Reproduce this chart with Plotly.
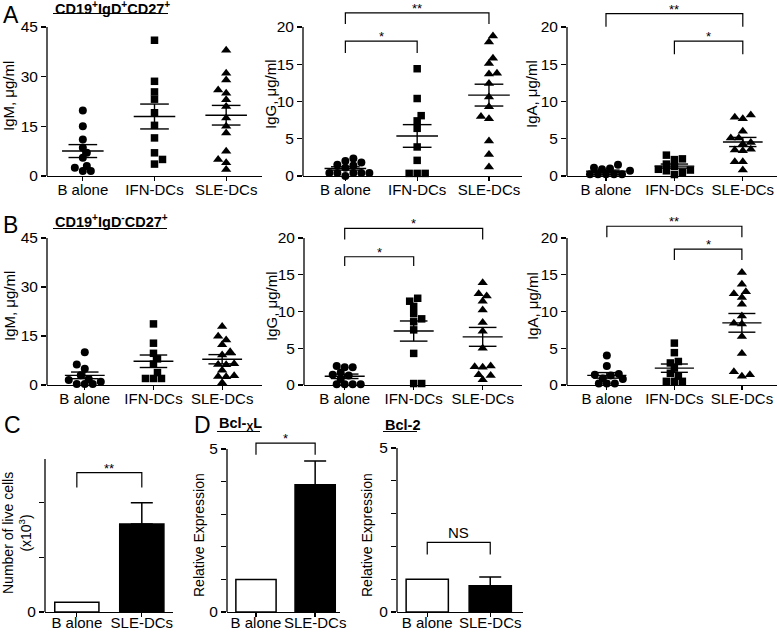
import numpy as np
import plotly.graph_objects as go

W, H = 777, 634
FONT = "Liberation Sans, Arial, sans-serif"

# ---------------- data ----------------
GROUPS3 = ["B alone", "IFN-DCs", "SLE-DCs"]
GROUPS2 = ["B alone", "SLE-DCs"]

# Panel A: CD19+IgD+CD27+ (ug/ml)
A_IgM_B = [19.8, 15.0, 11.0, 8.5, 7.0, 5.5, 3.0, 2.5, 1.5, 1.5]
A_IgM_IFN = [41.0, 28.6, 25.4, 23.2, 19.1, 15.3, 11.5, 7.0, 5.0, 3.6]
A_IgM_SLE = [38.0, 31.0, 29.0, 26.0, 25.0, 23.0, 21.0, 17.5, 15.0, 13.0, 7.5, 5.0, 4.0, 2.0]

A_IgG_B = [2.35, 2.0, 1.8, 1.5, 1.4, 1.1, 0.4, 0.4, 0.4, 0.4, 0.4, 0.0]
A_IgG_IFN = [14.4, 10.4, 8.1, 7.4, 6.4, 3.9, 2.1, 0.35, 0.35, 0.35]
A_IgG_SLE = [18.8, 18.0, 15.8, 15.1, 13.8, 13.7, 12.4, 10.6, 9.3, 8.0, 7.7, 4.7, 2.9, 1.2]

A_IgA_B = [1.5, 1.1, 1.0, 0.9, 0.7, 0.25, 0.25, 0.25, 0.25, 0.25]
A_IgA_IFN = [2.8, 2.3, 2.2, 1.6, 1.3, 0.9, 0.8, 0.7, 0.5, 0.2]
A_IgA_SLE = [8.2, 7.9, 7.7, 6.0, 5.1, 5.1, 4.5, 4.3, 3.6, 3.5, 3.4, 1.9, 1.9, 0.8]

# Panel B: CD19+IgD-CD27+ (ug/ml)
B_IgM_B = [10.0, 6.3, 5.0, 3.0, 1.8, 1.5, 1.0, 0.3, 0.3, 0.3]
B_IgM_IFN = [18.7, 12.8, 9.7, 8.0, 6.4, 3.8, 2.0, 2.0, 2.0]
B_IgM_SLE = [17.9, 14.9, 13.8, 12.3, 10.2, 9.2, 6.5, 6.3, 6.2, 4.5, 2.8, 2.6, 2.5, 0.7]

B_IgG_B = [2.6, 2.4, 2.4, 1.7, 1.4, 1.3, 0.8, 0.1, 0.1, 0.1, 0.1]
B_IgG_IFN = [11.8, 11.4, 10.7, 9.7, 9.0, 8.6, 7.5, 4.3, 0.2, 0.2]
B_IgG_SLE = [13.9, 12.4, 12.1, 11.4, 10.2, 8.5, 7.3, 5.0, 2.6, 2.5, 2.4, 1.4, 1.3, 0.7]

B_IgA_B = [4.0, 2.6, 1.5, 1.4, 1.3, 0.9, 0.8, 0.2, 0.2, 0.2]
B_IgA_IFN = [5.7, 4.4, 3.2, 3.0, 2.3, 1.6, 1.2, 0.5, 0.5, 0.5]
B_IgA_SLE = [15.3, 13.7, 12.7, 12.4, 11.9, 11.0, 9.4, 8.4, 8.3, 6.6, 4.3, 1.8, 1.4, 1.2]

# Panel C: live cells (x10^3)
C_live = [0.18, 1.61]
C_live_err = [0.0, 0.39]
# Panel D: relative expression
D_bclxl = [1.0, 3.9]
D_bclxl_err = [0.0, 0.73]
D_bcl2 = [1.0, 0.8]
D_bcl2_err = [0.0, 0.27]

# significance brackets: (group a, group b, label, bracket top, drop)
SIG = {
    2: [(0, 2, "**", 21.9, 1.5), (0, 1, "*", 18.1, 1.6)],
    3: [(0, 2, "**", 21.8, 1.75), (1, 2, "*", 18.1, 1.75)],
    5: [(0, 2, "*", 21.3, 1.5), (0, 1, "*", 17.45, 1.25)],
    6: [(0, 2, "**", 21.6, 1.5), (1, 2, "*", 18.5, 1.5)],
    7: [(0, 1, "**", 2.55, 0.27)],
    8: [(0, 1, "*", 5.18, 0.36)],
    9: [(0, 1, "NS", 2.12, 0.37)],
}

# ---------------- layout geometry (pixels) ----------------
SCAT = [
    dict(i=1, data=[A_IgM_B, A_IgM_IFN, A_IgM_SLE], ytitle="IgM, μg/ml", ymax=45, dt=15,
         x0=47, x1=262, xr=(-0.5, 2.5), y0=176, yt=27, ext=0, tx=9, ty=96),
    dict(i=2, data=[A_IgG_B, A_IgG_IFN, A_IgG_SLE], ytitle="IgG, μg/ml", ymax=20, dt=5,
         x0=303, x1=522, xr=(-0.59, 2.46), y0=176, yt=27, ext=0, tx=271, ty=94),
    dict(i=3, data=[A_IgA_B, A_IgA_IFN, A_IgA_SLE], ytitle="IgA, μg/ml", ymax=20, dt=5,
         x0=567, x1=777, xr=(-0.57, 2.5), y0=176, yt=27, ext=0, tx=532, ty=94),
    dict(i=4, data=[B_IgM_B, B_IgM_IFN, B_IgM_SLE], ytitle="IgM, μg/ml", ymax=45, dt=15,
         x0=47, x1=262, xr=(-0.55, 2.58), y0=385, yt=238, ext=205, tx=9, ty=306),
    dict(i=5, data=[B_IgG_B, B_IgG_IFN, B_IgG_SLE], ytitle="IgG, μg/ml", ymax=20, dt=5,
         x0=304, x1=522, xr=(-0.59, 2.57), y0=385, yt=238, ext=205, tx=271, ty=306),
    dict(i=6, data=[B_IgA_B, B_IgA_IFN, B_IgA_SLE], ytitle="IgA, μg/ml", ymax=20, dt=5,
         x0=567, x1=777, xr=(-0.59, 2.52), y0=385, yt=238, ext=205, tx=532, ty=306),
]
BARS = [
    dict(i=7, vals=C_live, errs=C_live_err, ymax=2.8, tickvals=[0], minor=[1, 2],
         ytitle="Number of live cells<br>(x10<sup>3</sup>)", x0=45, x1=173, xr=(-0.49, 1.48),
         y0=612, yt=459, ext=440, tx=17, ty=533, bw=0.68),
    dict(i=8, vals=D_bclxl, errs=D_bclxl_err, ymax=5, tickvals=[0, 5], minor=[1, 2, 3, 4],
         ytitle="Relative Expression",
         x0=227, x1=340, xr=(-0.49, 1.42), y0=612, yt=449, ext=425, tx=199, ty=535, bw=0.68),
    dict(i=9, vals=D_bcl2, errs=D_bcl2_err, ymax=5, tickvals=[0, 5], minor=[1, 2, 3, 4],
         ytitle="Relative Expression",
         x0=397, x1=523, xr=(-0.48, 1.52), y0=612, yt=448, ext=425, tx=367, ty=535, bw=0.67),
]

MARKERS = ["circle", "square", "triangle-up"]
MSIZE = [8, 7.5, 9]
LW = 1.3


def axname(k, i):
    return f"{k}axis" if i == 1 else f"{k}axis{i}"


def axref(k, i):
    return k if i == 1 else f"{k}{i}"


def swarm(vals, ppu, ppc, diam=8.0):
    """Compact beeswarm: horizontal pixel offsets converted to category units."""
    vals = np.asarray(vals, float)
    order = np.argsort(vals, kind="stable")
    offs = np.zeros(len(vals))
    placed = []
    h = diam / 2
    for n, idx in enumerate(order):
        y = vals[idx] * ppu
        sign = 1 if n % 2 else -1
        cands = [0.0]
        for k in range(1, 14):
            cands += [sign * k * h, -sign * k * h]
        for c in cands:
            if all((c - px) ** 2 + (y - py) ** 2 >= (diam * 0.78) ** 2 for px, py in placed):
                break
        placed.append((c, y))
        offs[idx] = c / ppc
    return offs


fig = go.Figure()
layout = dict(template="none", width=W, height=H, margin=dict(l=0, r=0, t=0, b=0, pad=0),
              autosize=False, paper_bgcolor="white", plot_bgcolor="white", showlegend=False,
              barmode="overlay", hovermode=False,
              font=dict(family=FONT, color="black", size=15))
annotations = []
shapes = []


def base_axes(p, groups, tickvals, minor=None, standoff=-4):
    i = p["i"]
    ppu = (p["y0"] - p["yt"]) / p["ymax"]
    rtop = (p["y0"] - p["ext"]) / ppu
    xr_, yr_ = axref("x", i), axref("y", i)
    layout[axname("x", i)] = dict(
        domain=[p["x0"] / W, min(p["x1"] / W, 1.0)], range=list(p["xr"]), anchor=yr_,
        automargin=False, showline=True, linecolor="black", linewidth=LW, ticks="outside",
        ticklen=4, tickwidth=LW, tickcolor="black", tickvals=list(range(len(groups))),
        ticktext=groups, ticklabelstandoff=standoff,
        showgrid=False, zeroline=False, tickfont=dict(size=15, color="black"), fixedrange=True)
    ya = dict(
        domain=[1 - p["y0"] / H, 1 - p["ext"] / H], range=[0, rtop], anchor=xr_,
        automargin=False, showline=False, ticks="outside", ticklen=5,
        tickwidth=LW, tickcolor="black", tickvals=tickvals,
        ticktext=[f"{t:g}" for t in tickvals],
        showgrid=False, zeroline=False, tickfont=dict(size=15.5, color="black"), fixedrange=True)
    if minor:
        ya["minor"] = dict(tickvals=minor, ticks="outside", ticklen=5, tickwidth=LW,
                           tickcolor="black", showgrid=False)
    layout[axname("y", i)] = ya
    # y-axis line only up to the top tick
    shapes.append(dict(type="line", xref=f"{xr_} domain", yref=f"{yr_} domain",
                       x0=0, x1=0, y0=0, y1=p["ymax"] / rtop,
                       line=dict(color="black", width=LW)))
    annotations.append(dict(text=p["ytitle"], x=p["tx"] / W, y=1 - p["ty"] / H, xref="paper",
                            yref="paper", textangle=-90, showarrow=False, xanchor="center",
                            yanchor="middle", font=dict(size=15 if i <= 6 else 14)))
    for (a, b, lab, top, drop) in SIG.get(i, []):
        fig.add_trace(go.Scatter(x=[a, a, b, b], y=[top - drop, top, top, top - drop],
                                 mode="lines", line=dict(color="black", width=1.2),
                                 xaxis=xr_, yaxis=yr_, hoverinfo="skip"))
        annotations.append(dict(text=lab, x=(a + b) / 2, y=top, xref=xr_,
                                yref=yr_, showarrow=False, yanchor="middle",
                                yshift=10 if lab == "NS" else 4.5,
                                font=dict(size=15 if lab == "NS" else 13)))


for p in SCAT:
    i = p["i"]
    ticks = [float(t) for t in np.arange(0, p["ymax"] + 0.01, p["dt"])]
    base_axes(p, GROUPS3, ticks)
    ppu = (p["y0"] - p["yt"]) / p["ymax"]
    ppc = (p["x1"] - p["x0"]) / (p["xr"][1] - p["xr"][0])
    mx, my = [], []
    for g, vals in enumerate(p["data"]):
        offs = swarm(vals, ppu, ppc)
        fig.add_trace(go.Scatter(
            x=g + offs, y=vals, mode="markers", cliponaxis=False,
            marker=dict(symbol=MARKERS[g], size=MSIZE[g], color="black", line=dict(width=0)),
            xaxis=axref("x", i), yaxis=axref("y", i), hoverinfo="skip"))
        v = np.asarray(vals, float)
        m = v.mean()
        s = v.std(ddof=1) / np.sqrt(len(v))
        mx += [g - 0.29, g + 0.29, None, g - 0.2, g + 0.2, None, g - 0.2, g + 0.2, None, g, g, None]
        my += [m, m, None, m + s, m + s, None, m - s, m - s, None, m - s, m + s, None]
    fig.add_trace(go.Scatter(x=mx, y=my, mode="lines", line=dict(color="black", width=1.4),
                             xaxis=axref("x", i), yaxis=axref("y", i), hoverinfo="skip"))

for p in BARS:
    i = p["i"]
    base_axes(p, GROUPS2, p["tickvals"], p["minor"], standoff=-7)
    colors = ["white", "black"]
    for g, (v, e) in enumerate(zip(p["vals"], p["errs"])):
        kw = {}
        if e > 0:
            kw["error_y"] = dict(type="data", array=[e], arrayminus=[0], symmetric=False,
                                 color="black", thickness=1.5, width=11)
        fig.add_trace(go.Bar(x=[g], y=[v], width=p["bw"],
                             marker=dict(color=colors[g], line=dict(color="black", width=1.5)),
                             xaxis=axref("x", i), yaxis=axref("y", i), hoverinfo="skip", **kw))

# panel letters and titles
for lab, x, y, anc in [("A", 1, 0, "top"), ("B", 1, 225, "middle"),
                       ("C", 2, 425, "middle"), ("D", 192, 425, "middle")]:
    annotations.append(dict(text=lab, x=x / W, y=1 - y / H, xref="paper", yref="paper",
                            showarrow=False, xanchor="left", yanchor=anc,
                            font=dict(size=23)))
for txt, x, y in [("<b>CD19<sup>+</sup>IgD<sup>+</sup>CD27<sup>+</sup></b>", 53, 8),
                  ("<b>CD19<sup>+</sup>IgD<sup>-</sup>CD27<sup>+</sup></b>", 53, 221),
                  ("<b>Bcl-<sub>X</sub>L</b>", 217, 424),
                  ("<b>Bcl-2</b>", 383, 425)]:
    annotations.append(dict(text=txt, x=x / W, y=1 - y / H, xref="paper", yref="paper",
                            showarrow=False, xanchor="left", yanchor="middle",
                            font=dict(size=14.5)))
# title underlines
for xa, xb, y in [(53, 168, 13.5), (53, 167, 228.5), (217, 260, 431.5), (383, 417, 431.5)]:
    shapes.append(dict(type="line", xref="paper", yref="paper", x0=xa / W, x1=xb / W,
                       y0=1 - y / H, y1=1 - y / H, line=dict(color="black", width=1.2)))

layout["annotations"] = annotations
layout["shapes"] = shapes
fig.update_layout(**layout)
fig.write_html("out.html", config=dict(displayModeBar=False, staticPlot=True),
               post_script="document.body.style.margin='0px';document.body.style.padding='0px';")
